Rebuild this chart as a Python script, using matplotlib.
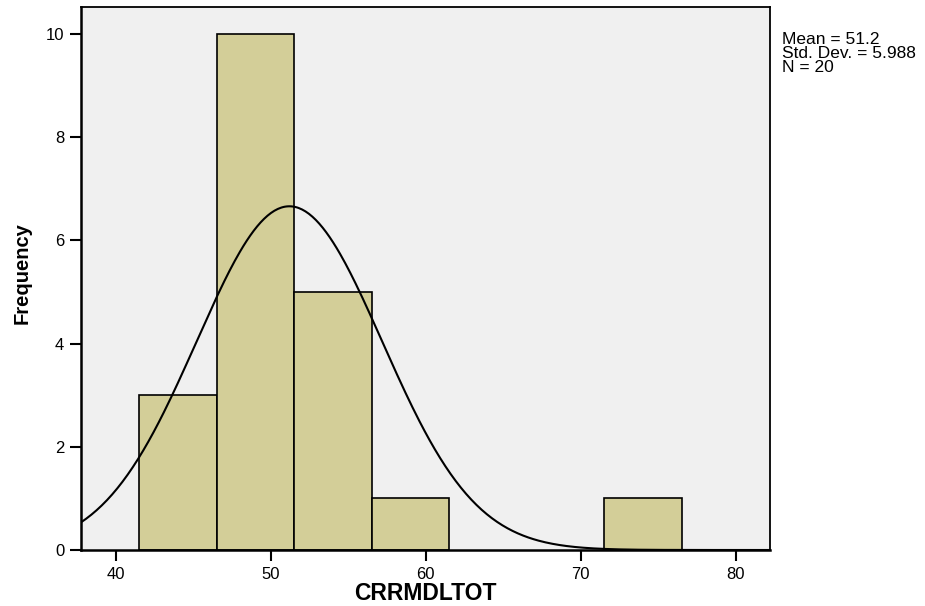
import numpy as np
import matplotlib
matplotlib.use("Agg")
import matplotlib.pyplot as plt

plt.rcParams['font.family'] = ['Liberation Sans', 'DejaVu Sans']

# histogram bins (left edges, width) and counts
bin_lefts = [41.5, 46.5, 51.5, 56.5, 71.5]
bin_width = 5.0
counts = [3, 10, 5, 1, 1]

# summary statistics shown on the chart
mean = 51.2
std_dev = 5.988
n_obs = 20

x_ticks = [40, 50, 60, 70, 80]
y_ticks = [0, 2, 4, 6, 8, 10]

fig = plt.figure(figsize=(9.25, 6.06), dpi=100)
ax = fig.add_axes([0.0876, 0.0924, 0.7448, 0.8956])
ax.set_facecolor("#F0F0F0")

ax.bar(bin_lefts, counts, width=bin_width, align="edge",
       color="#D3CE98", edgecolor="black", linewidth=1.2, zorder=2)

# fitted normal curve scaled to counts
xs = np.linspace(37.76, 82.2, 400)
ys = n_obs * bin_width / (std_dev * np.sqrt(2 * np.pi)) * np.exp(-0.5 * ((xs - mean) / std_dev) ** 2)
ax.plot(xs, ys, color="black", linewidth=1.5, zorder=3)

ax.set_xlim(37.76, 82.2)
ax.set_ylim(0, 10.52)
ax.set_xticks(x_ticks)
ax.set_yticks(y_ticks)
ax.tick_params(direction="out", length=8, width=1.5, labelsize=12, pad=4)
for s in ax.spines.values():
    s.set_linewidth(1.3)
ax.spines["left"].set_linewidth(1.8)
ax.spines["bottom"].set_linewidth(1.8)

ax.set_xlabel("CRRMDLTOT", fontsize=16.5, fontweight="bold")
ax.xaxis.set_label_coords(0.5, -0.081)
ax.xaxis.label.set_va("center")
ax.set_ylabel("Frequency", fontsize=14.5, fontweight="bold")
ax.yaxis.set_label_coords(-0.085, 0.51)
ax.yaxis.label.set_va("center")

fig.text(782 / 925, 1 - 32 / 606,
         f"Mean = {mean}\nStd. Dev. = {std_dev}\nN = {n_obs}",
         fontsize=12.5, va="top", ha="left", linespacing=0.9)

fig.savefig("out.png", dpi=100)
